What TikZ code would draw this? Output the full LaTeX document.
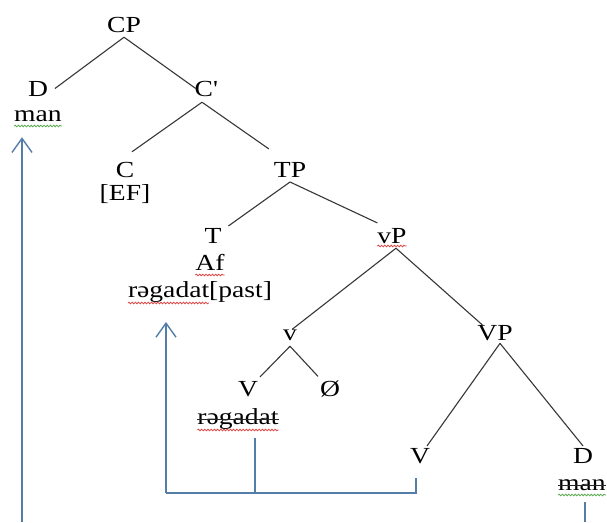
\documentclass[tikz,border=0pt]{standalone}
\usepackage{fontspec}
\setmainfont{Liberation Serif}[FakeStretch=1.2]
\usetikzlibrary{arrows.meta,decorations.pathmorphing,calc}
\definecolor{treeline}{RGB}{55,55,55}
\definecolor{moveline}{RGB}{84,126,168}
\definecolor{spellred}{RGB}{222,70,70}
\definecolor{spellgreen}{RGB}{90,170,80}
\tikzset{
  lbl/.style={inner sep=0pt, outer sep=0pt, anchor=base, text=black},
  branch/.style={draw=treeline, line width=1.1pt},
  moveline/.style={draw=moveline, line width=1.4pt},
  movearrow/.style={moveline, -{Straight Barb[length=14pt,width=20pt,line width=1.4pt]}},
  squiggle/.style={decorate, decoration={snake, segment length=3.2pt, amplitude=0.8pt}, line width=0.8pt},
  strike/.style={draw=black!85, line width=1pt}
}
\begin{document}
\begin{tikzpicture}[x=1pt,y=-1pt]
\useasboundingbox[fill=white] (0,0) rectangle (607,522);
\fontsize{23}{26}\selectfont

% category labels and lexical items
\node[lbl] (CP)   at (124,32)  {CP};
\node[lbl] (D1)   at (38,96)   {D};
\node[lbl] (man1) at (38,121)  {man};
\node[lbl] (Cbar) at (206,96)  {C\textquotesingle};
\node[lbl] (C)    at (125,177) {C};
\node[lbl] (EF)   at (125,200) {[EF]};
\node[lbl] (TP)   at (290,177) {TP};
\node[lbl] (T)    at (213,243) {T};
\node[lbl] (Af)   at (210,270) {Af};
\node[lbl, anchor=base west] (rp1) at (128,297) {rəgadat};
\node[lbl, anchor=base west] (rp2) at (rp1.base east) {[past]};
\node[lbl] (vP)   at (392,243) {vP};
\node[lbl] (v)    at (290,340) {v};
\node[lbl] (V1)   at (248,396) {V};
\node[lbl] (null) at (330,396) {Ø};
\node[lbl] (rg)   at (238,424) {rəgadat};
\node[lbl] (VP)   at (495,340) {VP};
\node[lbl] (V2)   at (420,463) {V};
\node[lbl] (D2)   at (583,463) {D};
\node[lbl] (man2) at (582,490) {man};

% tree branches
\draw[branch] ([yshift=-5pt]CP.south) -- ([xshift=7pt]D1.east);
\draw[branch] ([yshift=-5pt]CP.south) -- ([xshift=1pt]Cbar.west);
\draw[branch] ([xshift=-4pt,yshift=-6pt]Cbar.south) -- ([xshift=7pt,yshift=10pt]C.north);
\draw[branch] ([xshift=-4pt,yshift=-6pt]Cbar.south) -- ([xshift=-5pt,yshift=13pt]TP.north west);
\draw[branch] ([yshift=-5pt]TP.south) -- ([xshift=7pt,yshift=2pt]T.north east);
\draw[branch] ([yshift=-5pt]TP.south) -- ([yshift=5pt]vP.north west);
\draw[branch] ([xshift=4pt,yshift=-5pt]vP.south) -- ([xshift=2pt]v.north);
\draw[branch] ([xshift=4pt,yshift=-5pt]vP.south) -- ([xshift=5pt]VP.north west);
\draw[branch] ([yshift=-6pt]v.south) -- ([xshift=12pt,yshift=4pt]V1.north);
\draw[branch] ([yshift=-6pt]v.south) -- ([xshift=-12pt,yshift=4pt]null.north);
\draw[branch] ([xshift=5pt,yshift=-3pt]VP.south) -- ([xshift=7pt,yshift=2pt]V2.north);
\draw[branch] ([xshift=5pt,yshift=-3pt]VP.south) -- ([xshift=0pt,yshift=2pt]D2.north);

% deleted copies
\draw[strike] ([yshift=5pt]rg.base west) -- ([yshift=5pt]rg.base east);
\draw[strike] ([yshift=5pt]man2.base west) -- ([yshift=5pt]man2.base east);

% proofing underlines
\draw[squiggle, spellgreen] ([yshift=-5pt]man1.base west) -- ([yshift=-5pt]man1.base east);
\draw[squiggle, spellred] ([yshift=-5pt]Af.base west) -- ([yshift=-5pt]Af.base east);
\draw[squiggle, spellred] ([yshift=-6pt]rp1.base west) -- ([yshift=-6pt]rp1.base east);
\draw[squiggle, spellred] ([yshift=-3pt]vP.base west) -- ([yshift=-3pt]vP.base east);
\draw[squiggle, spellred] ([yshift=-6pt]rg.base west) -- ([yshift=-6pt]rg.base east);
\draw[squiggle, spellgreen] ([yshift=-5pt]man2.base west) -- ([yshift=-5pt]man2.base east);

% movement lines
\coordinate (footL) at (22,522);
\coordinate (footR) at (585,522);
\coordinate (turn)  at (166,493);
\coordinate (rgdrop) at ([xshift=17pt,yshift=-9pt]rg.south);
\draw[movearrow] (footL) -- ($(footL |- man1.south)+(0,-16pt)$);
\draw[moveline] ([xshift=-4pt,yshift=-15pt]V2.south) |- (turn);
\draw[movearrow] (turn) -- ($(turn |- rp1.south)+(0,-20pt)$);
\draw[moveline] (rgdrop) -- (rgdrop |- turn);
\draw[moveline] ([xshift=3pt,yshift=-12pt]man2.south) -- (footR);
\end{tikzpicture}
\end{document}
